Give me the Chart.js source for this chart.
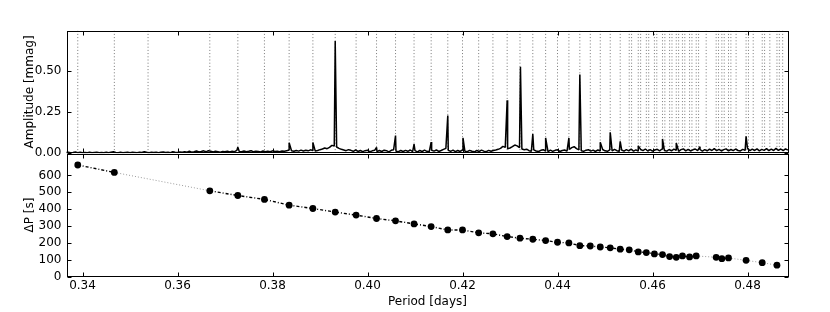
<!DOCTYPE html>
<html>
<head>
<meta charset="utf-8">
<script src="https://cdn.jsdelivr.net/npm/chart.js@4.4.1/dist/chart.umd.min.js"></script>
<style>
  body { margin: 0; background: #fff; }
  #wrap { position: relative; width: 830px; height: 312px; }
  canvas { position: absolute; left: 0; }
  #top { top: 0; }
  #bottom { top: 141px; }
</style>
</head>
<body>
<div id="wrap">
  <canvas id="top" width="830" height="166"></canvas>
  <canvas id="bottom" width="830" height="171"></canvas>
</div>
<script>
// Observed periods (days) and period spacing (s)
const periods = [0.3390, 0.3467, 0.3668, 0.3727, 0.3783, 0.3835, 0.3885, 0.3932, 0.3976, 0.4019,
  0.4059, 0.4098, 0.4134, 0.4169, 0.4200, 0.4234, 0.4264, 0.4294, 0.4321, 0.4348,
  0.4375, 0.4400, 0.4424, 0.4447, 0.4469, 0.4490, 0.4511, 0.4532, 0.4551, 0.4570,
  0.4587, 0.4604, 0.4621, 0.4636, 0.4650, 0.4663, 0.4678, 0.4692, 0.4734, 0.4746,
  0.4760, 0.4797, 0.4831, 0.4862]
const deltaP = [662, 618, 509, 481, 458, 424, 404, 383, 365, 345,
  331, 313, 297, 277, 277, 260, 254, 238, 228, 222,
  214, 204, 200, 184, 182, 176, 171, 163, 159, 147,
  143, 135, 131, 119, 115, 123, 117, 123, 115, 107,
  111, 97, 83, 68]

// modes not detected (dotted lines only) and the second line of each close pair
const missingPeriods = [0.3538, 0.4713, 0.4776, 0.4812, 0.4847, 0.4874]
const pairPeriods = [0.4556, 0.4575, 0.4592, 0.4609, 0.4626, 0.4641, 0.4655, 0.4668, 0.4683, 0.4697,
  0.4739, 0.4751, 0.4765, 0.4802, 0.4836, 0.4867]

// amplitude spectrum: peaks + noise floor sampled every 0.0005 d from 0.3365 d
const peakPeriods = [0.3727, 0.3835, 0.3885, 0.3932, 0.4019, 0.4059, 0.4098, 0.4134, 0.4169, 0.4201,
  0.4294, 0.4322, 0.4348, 0.4375, 0.4424, 0.4447, 0.4490, 0.4511, 0.4532, 0.4570,
  0.4621, 0.4650, 0.4700, 0.4797]
const peakAmps = [0.036, 0.064, 0.066, 0.680, 0.036, 0.107, 0.056, 0.068, 0.228, 0.093,
  0.321, 0.524, 0.117, 0.093, 0.093, 0.477, 0.067, 0.127, 0.072, 0.045,
  0.087, 0.063, 0.040, 0.103]
const noiseStart = 0.3365
const noiseStep = 0.0005
const noiseAmp = [
  0.004,0.006,0.003,0.005,0.008,0.004,0.006,0.003,0.005,0.004,
  0.006,0.003,0.005,0.007,0.004,0.005,0.003,0.006,0.004,0.007,
  0.009,0.005,0.004,0.006,0.003,0.005,0.007,0.004,0.006,0.005,
  0.004,0.007,0.005,0.010,0.006,0.004,0.006,0.005,0.007,0.004,
  0.006,0.008,0.005,0.007,0.004,0.009,0.006,0.005,0.008,0.006,
  0.010,0.006,0.012,0.007,0.009,0.014,0.008,0.011,0.015,0.009,
  0.016,0.012,0.008,0.013,0.010,0.007,0.011,0.009,0.013,0.008,
  0.012,0.010,0.018,0.011,0.009,0.014,0.010,0.012,0.016,0.009,
  0.013,0.011,0.008,0.014,0.010,0.012,0.009,0.015,0.011,0.013,
  0.010,0.014,0.012,0.016,0.020,0.015,0.012,0.017,0.013,0.019,
  0.014,0.018,0.015,0.021,0.016,0.013,0.017,0.022,0.026,0.032,
  0.028,0.036,0.048,0.044,0.038,0.030,0.024,0.020,0.016,0.022,
  0.018,0.012,0.020,0.011,0.017,0.010,0.016,0.019,0.009,0.015,
  0.018,0.010,0.017,0.011,0.019,0.016,0.009,0.018,0.022,0.012,
  0.010,0.017,0.011,0.018,0.012,0.020,0.010,0.016,0.009,0.017,
  0.011,0.019,0.012,0.010,0.018,0.013,0.020,0.011,0.017,0.024,
  0.030,0.018,0.012,0.019,0.010,0.017,0.011,0.020,0.013,0.010,
  0.018,0.012,0.009,0.017,0.011,0.019,0.013,0.010,0.018,0.012,
  0.017,0.020,0.024,0.030,0.042,0.036,0.028,0.032,0.040,0.050,
  0.045,0.034,0.026,0.022,0.025,0.016,0.013,0.021,0.014,0.011,
  0.018,0.022,0.013,0.010,0.019,0.012,0.018,0.021,0.011,0.017,
  0.020,0.013,0.024,0.034,0.040,0.028,0.021,0.015,0.012,0.019,
  0.022,0.013,0.019,0.011,0.020,0.014,0.023,0.015,0.012,0.021,
  0.014,0.024,0.016,0.012,0.020,0.013,0.022,0.015,0.025,0.013,
  0.021,0.013,0.023,0.016,0.026,0.014,0.022,0.013,0.020,0.024,
  0.015,0.026,0.017,0.013,0.023,0.014,0.025,0.018,0.012,0.022,
  0.027,0.015,0.024,0.014,0.021,0.026,0.016,0.023,0.013,0.022,
  0.015,0.025,0.017,0.028,0.016,0.024,0.014,0.022,0.027,0.015,
  0.023,0.016,0.026,0.017,0.014,0.024,0.018,0.030,0.016,0.025,
  0.017,0.027,0.015,0.024,0.018,0.028,0.016,0.025,0.017,0.030,
  0.018,0.026,0.016,0.027,0.019]

const periodTicks = [0.34, 0.36, 0.38, 0.40, 0.42, 0.44, 0.46, 0.48]
const ampTicks = [0, 0.25, 0.5]
const dpTicks = [0, 100, 200, 300, 400, 500, 600]

const xMin = 0.33663, xMax = 0.48863
const ampMax = 0.743, dpMax = 730

Chart.defaults.font.family = 'DejaVu Sans'
Chart.defaults.font.size = 12
Chart.defaults.color = '#000'

const font = { family: 'DejaVu Sans', size: 12 }

// black frame + inward ticks on all four sides (matplotlib look)
const frame = {
  id: 'frame',
  afterDraw(chart, args, opts) {
    const { ctx, chartArea: a, scales } = chart
    const l = Math.round(a.left) + 0.5, r = Math.round(a.right) - 0.5
    const t = Math.round(a.top) + 0.5, b = Math.round(a.bottom) - 0.5
    ctx.save()
    ctx.strokeStyle = '#000'
    ctx.lineWidth = 1
    ctx.strokeRect(l, t, r - l, b - t)
    ctx.beginPath()
    opts.xTicks.forEach(v => {
      const px = Math.round(scales.x.getPixelForValue(v)) + 0.5
      ctx.moveTo(px, t); ctx.lineTo(px, t + 4)
      ctx.moveTo(px, b); ctx.lineTo(px, b - 4)
    })
    opts.yTicks.forEach(v => {
      const py = Math.round(scales.y.getPixelForValue(v)) + 0.5
      ctx.moveTo(l, py); ctx.lineTo(l + 4, py)
      ctx.moveTo(r, py); ctx.lineTo(r - 4, py)
    })
    ctx.stroke()
    ctx.restore()
  }
}

// Top panel: amplitude spectrum
const spectrum = noiseAmp.map((a, i) => ({ x: noiseStart + i * noiseStep, y: a }))
  .concat(peakPeriods.map((p, i) => ({ x: p, y: peakAmps[i] })))
  .sort((p, q) => p.x - q.x)

const gridPeriods = periods.concat(missingPeriods, pairPeriods)
const gridLines = []
gridPeriods.forEach(p => {
  gridLines.push({ x: p, y: 0 }, { x: p, y: ampMax }, { x: p, y: null })
})

new Chart(document.getElementById('top'), {
  type: 'line',
  data: {
    datasets: [
      { data: spectrum, borderColor: '#000', borderWidth: 1.5, borderJoinStyle: 'bevel', pointRadius: 0, tension: 0 },
      { data: gridLines, borderColor: '#777', borderWidth: 1, borderDash: [1, 2.2], pointRadius: 0, spanGaps: false }
    ]
  },
  options: {
    responsive: false,
    animation: false,
    devicePixelRatio: 1,
    events: [],
    layout: { padding: { top: 30.5, right: 41.5, bottom: 12.7, left: 0 } },
    plugins: {
      legend: { display: false },
      tooltip: { enabled: false },
      frame: { xTicks: periodTicks, yTicks: ampTicks }
    },
    scales: {
      x: { type: 'linear', min: xMin, max: xMax, display: false },
      y: {
        min: 0, max: ampMax,
        afterFit: s => { s.width = 66.5 },
        afterBuildTicks: s => { s.ticks = ampTicks.map(v => ({ value: v })) },
        grid: { display: false, drawTicks: false },
        border: { display: false },
        ticks: { font, padding: 5, callback: v => v.toFixed(2) },
        title: { display: true, text: 'Amplitude [mmag]', font, padding: { top: 23, bottom: 0 } }
      }
    }
  },
  plugins: [frame]
})

// Bottom panel: period spacing
const dpPoints = periods.map((p, i) => ({ x: p, y: deltaP[i] }))
const skipsMode = c => missingPeriods.some(m => m > c.p0.parsed.x && m < c.p1.parsed.x)

new Chart(document.getElementById('bottom'), {
  type: 'line',
  data: {
    datasets: [{
      data: dpPoints,
      borderColor: '#000',
      borderWidth: 1.4,
      borderDash: [3, 2, 1, 2],
      pointRadius: 3.4,
      pointBackgroundColor: '#000',
      pointBorderWidth: 0,
      tension: 0,
      segment: {
        borderColor: c => skipsMode(c) ? '#9a9a9a' : '#000',
        borderDash: c => skipsMode(c) ? [1, 2] : [3, 2, 1, 2],
        borderWidth: c => skipsMode(c) ? 1 : 1.4
      }
    }]
  },
  options: {
    responsive: false,
    animation: false,
    devicePixelRatio: 1,
    events: [],
    layout: { padding: { top: 12.5, right: 41.5, bottom: 0, left: 0 } },
    plugins: {
      legend: { display: false },
      tooltip: { enabled: false },
      frame: { xTicks: periodTicks, yTicks: dpTicks }
    },
    scales: {
      x: {
        type: 'linear', min: xMin, max: xMax,
        afterFit: s => { s.height = 35.3 },
        afterBuildTicks: s => { s.ticks = periodTicks.map(v => ({ value: v })) },
        grid: { display: false, drawTicks: false },
        border: { display: false },
        ticks: { font, padding: 2, maxRotation: 0, autoSkip: false, callback: v => v.toFixed(2) },
        title: { display: true, text: 'Period [days]', font, padding: { top: 0, bottom: 3 } }
      },
      y: {
        min: 0, max: dpMax,
        afterFit: s => { s.width = 66.5 },
        afterBuildTicks: s => { s.ticks = dpTicks.map(v => ({ value: v })) },
        grid: { display: false, drawTicks: false },
        border: { display: false },
        ticks: { font, padding: 5, callback: v => String(v) },
        title: { display: true, text: 'ΔP [s]', font, padding: { top: 23, bottom: 0 } }
      }
    }
  },
  plugins: [frame]
})
</script>
</body>
</html>
